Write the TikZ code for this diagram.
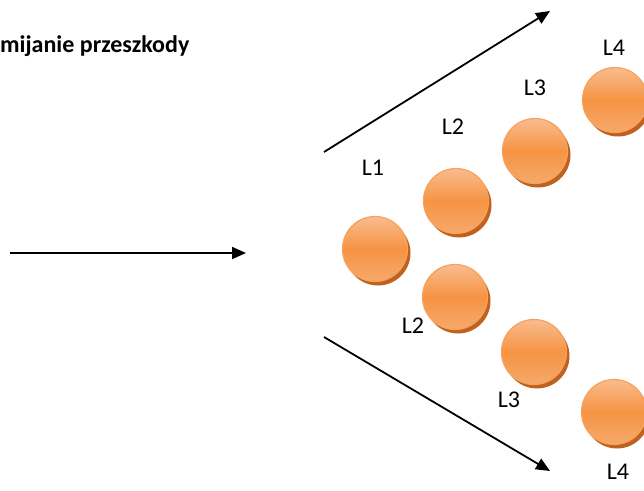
\documentclass[tikz,border=0pt]{standalone}
\usepackage{fontspec}
\setmainfont{Carlito}
\usetikzlibrary{arrows.meta,shadows}
\definecolor{ballTop}{HTML}{F9BC8E}
\definecolor{ballMid}{HTML}{F59443}
\definecolor{ballBot}{HTML}{F6A96B}
\definecolor{ballEdge}{HTML}{F6A25E}
\definecolor{ballShadow}{HTML}{BF621F}
\tikzset{
  ball/.style={circle, minimum size=65pt, inner sep=0pt,
    draw=ballEdge, line width=1.2pt,
    top color=ballTop, bottom color=ballBot, middle color=ballMid,
    drop shadow={shadow xshift=3pt, shadow yshift=-4pt, fill=ballShadow, opacity=1}},
  lbl/.style={font=\fontsize{24}{28}\selectfont, inner sep=0pt},
  arr/.style={line width=1.8pt, -{Triangle[length=14pt,width=12pt]}}
}
\begin{document}
\begin{tikzpicture}[x=1pt,y=-1pt]
\useasboundingbox (0,0) rectangle (644,490);
\node[anchor=west, inner sep=0pt, font=\fontsize{24}{28}\selectfont\bfseries] (title) at (0,46) {mijanie przeszkody};
% arrows
\coordinate (h1) at (10,253);
\coordinate (h2) at (246,253);
\coordinate (u1) at (324,152);
\coordinate (u2) at (550,11);
\coordinate (d1) at (324,337);
\coordinate (d2) at (550,471);
\draw[arr] (h1) -- (h2);
\draw[arr] (u1) -- (u2);
\draw[arr] (d1) -- (d2);
% balls
\node[ball] (b1) at (375,249) {};
\node[ball] (b2u) at (456,201) {};
\node[ball] (b3u) at (535,151) {};
\node[ball] (b4u) at (615,100) {};
\node[ball] (b2d) at (455,297) {};
\node[ball] (b3d) at (534,352) {};
\node[ball] (b4d) at (614,412) {};
% labels
\node[lbl] (l1) at (373,168) {L1};
\node[lbl] (l2u) at (453,127) {L2};
\node[lbl] (l3u) at (535,88) {L3};
\node[lbl] (l4u) at (614,48) {L4};
\node[lbl] (l2d) at (413,326) {L2};
\node[lbl] (l3d) at (509,400) {L3};
\node[lbl] (l4d) at (618,472) {L4};
\end{tikzpicture}
\end{document}
